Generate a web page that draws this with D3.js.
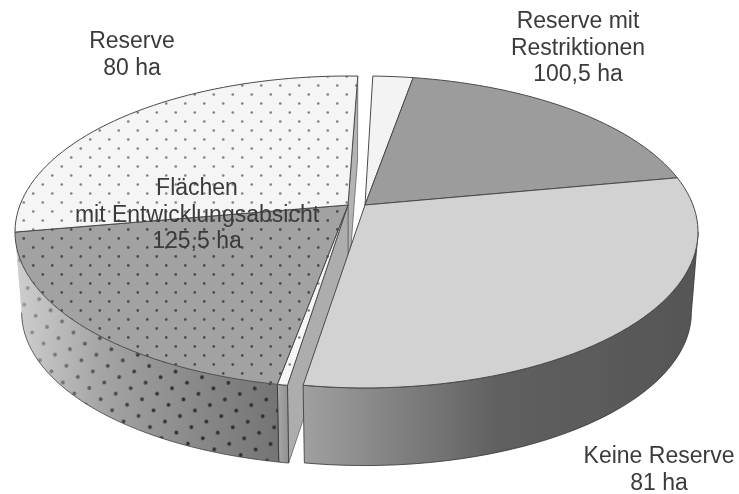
<!DOCTYPE html>
<html>
<head>
<meta charset="utf-8">
<script src="https://cdn.jsdelivr.net/npm/d3@7"></script>
<style>
html, body { margin: 0; padding: 0; background: #fff; }
text { font-family: "Liberation Sans", Arial, sans-serif; font-size: 23px; fill: #3a3a3a; text-anchor: middle; }
</style>
</head>
<body>
<div id="chart"></div>
<script>
const width = 739
const height = 494

// sweep of every slice in degrees (the drawn slices do not follow the ha labels)
const leftSliceNames = ["sliver", "flaechen", "reserve"]
const leftSweeps = [1.5, 69.7, 102]
const leftRange = [188.8, 360 + 2]
const rightSliceNames = ["weiss", "restriktionen", "keine"]
const rightSweeps = [8.3, 69.4, 109.7]
const rightRange = [1.6, 189]

const labelLines = [
    ["Reserve", "80 ha"],
    ["Reserve mit", "Restriktionen", "100,5 ha"],
    ["Flächen", "mit Entwicklungsabsicht", "125,5 ha"],
    ["Keine Reserve", "81 ha"]
]
const labelX = [132, 578, 197, 659]
const labelY = [48, 28, 195, 463]

const sliceFill = {
    sliver: "url(#dotsLight)",
    flaechen: "url(#dotsDark)",
    reserve: "url(#dotsLight)",
    weiss: "#f3f3f3",
    restriktionen: "#9c9c9c",
    keine: "#d2d2d2"
}

// perspective of the disc
const leftCx = 348
const rightCx = 365
const persp = 0.173
const scaleX = 328
const topY = 205, topK = 151.3
const bottomY = 286, bottomK = 148.5, bottomShrink = 0.98

function project(deg, cx, plane) {
    let a = deg * Math.PI / 180
    let u = Math.sin(a)
    let v = -Math.cos(a)
    let f = 1 - persp * v
    if (plane == "top") return [cx + scaleX * u / f, topY + topK * v / f]
    return [cx + bottomShrink * scaleX * u / f, bottomY + bottomK * v / f]
}
function rim(from, to, cx, plane) {
    let n = Math.max(2, Math.ceil(Math.abs(to - from) / 2))
    return d3.range(n + 1).map(i => project(from + (to - from) * i / n, cx, plane))
}
const line = d3.line()

let svg = d3.select('div#chart').append('svg').attr("width", width).attr("height", height).style("display", "block")
let defs = svg.append("defs")
defs.append("filter").attr("id", "soft").append("feGaussianBlur").attr("stdDeviation", 0.4)

function dotPattern(id, bg, dot, w, h, r, rotate) {
    let p = defs.append("pattern").attr("id", id).attr("patternUnits", "userSpaceOnUse")
        .attr("width", w).attr("height", h).attr("patternTransform", `rotate(${rotate})`)
    p.append("rect").attr("width", w).attr("height", h).attr("fill", bg)
    p.append("circle").attr("cx", w / 4).attr("cy", h / 4).attr("r", r).attr("fill", dot)
    p.append("circle").attr("cx", 3 * w / 4).attr("cy", 3 * h / 4).attr("r", r).attr("fill", dot)
}
dotPattern("dotsLight", "#f5f5f5", "#808080", 19, 18, 1.3, 0)
dotPattern("dotsDark", "#a2a2a2", "#505050", 19, 18, 1.4, 0)

function wallGradient(id, stops) {
    let g = defs.append("linearGradient").attr("id", id)
    stops.forEach(s => g.append("stop").attr("offset", s[0]).attr("stop-color", s[1]).attr("stop-opacity", s[2] === undefined ? 1 : s[2]))
}
wallGradient("wallLeft", [[0, "#cfcfcf"], [0.3, "#a6a6a6"], [0.7, "#888"], [1, "#747474"]])
wallGradient("wallFade", [[0, "#cfcfcf", 0.7], [0.35, "#a6a6a6", 0.25], [0.6, "#888", 0]])
wallGradient("wallRight", [[0, "#a0a0a0"], [0.5, "#5f5f5f"], [1, "#565656"]])
wallGradient("wallThin", [[0, "#a8a8a8"], [1, "#909090"]])
defs.append("pattern").attr("id", "dotsWall").attr("patternUnits", "userSpaceOnUse")
    .attr("width", 27).attr("height", 17).attr("patternTransform", "rotate(12)")
    .call(p => {
        p.append("circle").attr("cx", 6).attr("cy", 4).attr("r", 1.9).attr("fill", "#2e2e2e")
        p.append("circle").attr("cx", 19.5).attr("cy", 12.5).attr("r", 1.9).attr("fill", "#2e2e2e")
    })

let chart = svg.append("g").attr("id", "elementGroup").attr("filter", "url(#soft)")

const pieOf = range => d3.pie().sort(null).value(d => d)
    .startAngle(range[0] * Math.PI / 180).endAngle(range[1] * Math.PI / 180)
const toDeg = r => r * 180 / Math.PI

function wall(from, to, cx) {
    return line(rim(from, to, cx, "top").concat(rim(to, from, cx, "bottom"))) + "Z"
}
function cutFace(deg, cx) {
    return line([
        [cx, topY], project(deg, cx, "top"), project(deg, cx, "bottom"), [cx, bottomY]
    ]) + "Z"
}
function drawSlices(names, arcs, cx) {
    arcs.forEach((d, i) => {
        let from = toDeg(d.startAngle), to = toDeg(d.endAngle)
        chart.append("path")
            .attr("d", line([[cx, topY]].concat(rim(from, to, cx, "top"))) + "Z")
            .attr("fill", sliceFill[names[i]])
            .attr("stroke", "#4a4a4a").attr("stroke-width", 1).attr("stroke-linejoin", "round")
    })
}

// left group
let leftArcs = pieOf(leftRange)(leftSweeps)
const cutStroke = { stroke: "#666", width: 0.8 }
chart.append("path").attr("d", cutFace(leftRange[1], leftCx)).attr("fill", "#b4b4b4").attr("stroke", cutStroke.stroke).attr("stroke-width", cutStroke.width)
chart.append("path").attr("d", cutFace(leftRange[0], leftCx)).attr("fill", "#adadad").attr("stroke", cutStroke.stroke).attr("stroke-width", cutStroke.width)

let leftWallFrom = toDeg(leftArcs[1].startAngle)
let leftWallTo = toDeg(leftArcs[1].endAngle)
let leftWallPath = wall(leftWallFrom, leftWallTo, leftCx)
chart.append("path").attr("d", wall(leftRange[0], leftWallFrom, leftCx)).attr("fill", "url(#wallThin)").attr("stroke", "#333").attr("stroke-width", 0.8)
chart.append("path").attr("d", leftWallPath).attr("fill", "url(#wallLeft)")
chart.append("path").attr("d", leftWallPath).attr("fill", "url(#dotsWall)")
chart.append("path").attr("d", leftWallPath).attr("fill", "url(#wallFade)")
chart.append("path").attr("d", line(rim(leftWallFrom, leftWallTo, leftCx, "bottom"))).attr("fill", "none").attr("stroke", "#444").attr("stroke-width", 0.8)
chart.append("path").attr("d", line([project(leftWallFrom, leftCx, "top"), project(leftWallFrom, leftCx, "bottom")])).attr("stroke", "#333").attr("stroke-width", 0.8)
drawSlices(leftSliceNames, leftArcs, leftCx)

// right group
let rightArcs = pieOf(rightRange)(rightSweeps)
chart.append("path").attr("d", wall(rightRange[1], 100, rightCx)).attr("fill", "url(#wallRight)").attr("stroke", "#333").attr("stroke-width", 0.8)
drawSlices(rightSliceNames, rightArcs, rightCx)

// labels
labelLines.forEach((lines, i) => {
    let t = chart.append("text")
    lines.forEach((s, j) => {
        t.append("tspan").attr("x", labelX[i]).attr("y", labelY[i] + j * 26.6).text(s)
    })
})
</script>
</body>
</html>
